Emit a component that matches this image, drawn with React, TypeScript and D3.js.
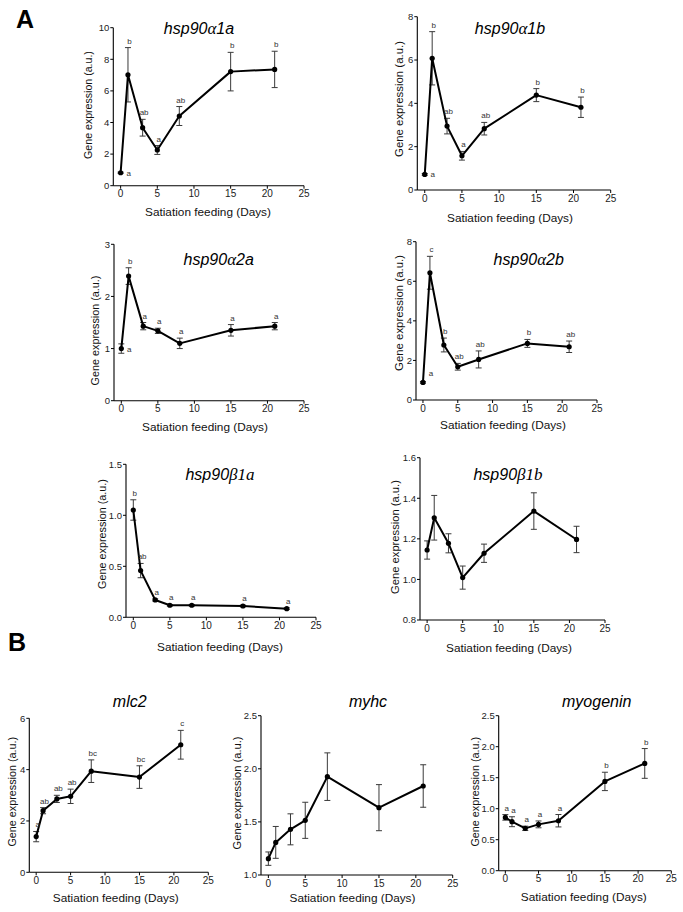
import React from "react";
import * as d3 from "d3";

// ---------- data ----------
const days = [0, 1, 3, 5, 8, 15, 21];
const xTicks = [0, 5, 10, 15, 20, 25];

const a1aMean = [0.82, 7.02, 3.67, 2.26, 4.41, 7.22, 7.36];
const a1aSem = [0.04, 1.72, 0.53, 0.28, 0.6, 1.22, 1.15];
const a1aLetters = ["a", "b", "ab", "a", "ab", "b", "b"];

const a1bMean = [0.72, 6.08, 2.95, 1.58, 2.83, 4.38, 3.82];
const a1bSem = [0.04, 1.23, 0.36, 0.2, 0.29, 0.3, 0.47];
const a1bLetters = ["a", "b", "ab", "a", "ab", "b", "b"];

const a2aMean = [1.0, 2.39, 1.43, 1.34, 1.1, 1.35, 1.43];
const a2aSem = [0.09, 0.16, 0.07, 0.05, 0.1, 0.11, 0.07];
const a2aLetters = ["a", "b", "a", "a", "a", "a", "a"];

const a2bMean = [0.89, 6.43, 2.78, 1.68, 2.05, 2.86, 2.69];
const a2bSem = [0.04, 0.83, 0.35, 0.17, 0.43, 0.2, 0.29];
const a2bLetters = ["a", "c", "b", "ab", "ab", "b", "ab"];

const b1aMean = [1.052, 0.458, 0.17, 0.118, 0.118, 0.111, 0.085];
const b1aSem = [0.1, 0.07, 0.01, 0.008, 0.008, 0.008, 0.008];
const b1aLetters = ["b", "ab", "a", "a", "a", "a", "a"];

const b1bMean = [1.145, 1.304, 1.178, 1.009, 1.129, 1.337, 1.197];
const b1bSem = [0.045, 0.11, 0.047, 0.057, 0.045, 0.09, 0.065];

const mlc2Mean = [1.39, 2.4, 2.86, 2.96, 3.94, 3.71, 4.97];
const mlc2Sem = [0.2, 0.12, 0.14, 0.28, 0.44, 0.44, 0.56];
const mlc2Letters = ["a", "ab", "ab", "ab", "bc", "bc", "c"];

const myhcMean = [1.154, 1.307, 1.43, 1.515, 1.926, 1.634, 1.838];
const myhcSem = [0.063, 0.15, 0.146, 0.17, 0.224, 0.217, 0.2];

const myogMean = [0.86, 0.79, 0.683, 0.747, 0.806, 1.44, 1.73];
const myogSem = [0.045, 0.08, 0.035, 0.055, 0.1, 0.148, 0.24];
const myogLetters = ["a", "a", "a", "a", "a", "b", "b"];

const ticksA1a = [0, 2, 4, 6, 8, 10];
const ticksA1b = [0, 2, 4, 6, 8];
const ticksA2a = [0, 1, 2, 3];
const ticksA2b = [0, 2, 4, 6, 8];
const ticksB1a = [0, 0.5, 1.0, 1.5];
const ticksB1b = [0.8, 1.0, 1.2, 1.4, 1.6];
const ticksMlc2 = [0, 2, 4, 6];
const ticksMyhc = [1.0, 1.5, 2.0, 2.5];
const ticksMyog = [0, 0.5, 1.0, 1.5, 2.0, 2.5];

// ---------- panel table ----------
type Part = { t: string; serif?: boolean };
const alphaTitle = (n: string): Part[] => [{ t: "hsp90" }, { t: "α", serif: true }, { t: n }];
const betaTitle = (n: string): Part[] => [{ t: "hsp90" }, { t: "β" + n, serif: true }];

const fmtInt = d3.format("d");
const fmt1 = d3.format(".1f");

const panels = [
  {
    title: alphaTitle("1a"), mean: a1aMean, sem: a1aSem, letters: a1aLetters,
    yDomain: [0, 10], yTicks: ticksA1a, fmt: fmtInt,
    ax: 113.3, x25: 304, top: 27.7, bottom: 185.7,
    titleX: 199, titleY: 33.5, ylabX: 88, ylabY: 105, ylabSize: 10.6, xlabX: 208, xlabY: 212,
    zero: { dx: 8, dy: 3 },
  },
  {
    title: alphaTitle("1b"), mean: a1bMean, sem: a1bSem, letters: a1bLetters,
    yDomain: [0, 8], yTicks: ticksA1b, fmt: fmtInt,
    ax: 417.3, x25: 610.7, top: 16.7, bottom: 190,
    titleX: 510, titleY: 33.5, ylabX: 399, ylabY: 99, ylabSize: 11.4, xlabX: 510, xlabY: 218,
    zero: { dx: 8, dy: 3 },
  },
  {
    title: alphaTitle("2a"), mean: a2aMean, sem: a2aSem, letters: a2aLetters,
    yDomain: [0, 3], yTicks: ticksA2a, fmt: fmtInt,
    ax: 114, x25: 304, top: 244.3, bottom: 400.7,
    titleX: 218.7, titleY: 264.5, ylabX: 95, ylabY: 330.5, ylabSize: 10.8, xlabX: 205, xlabY: 427,
    zero: { dx: 8, dy: 3 },
  },
  {
    title: alphaTitle("2b"), mean: a2bMean, sem: a2bSem, letters: a2bLetters,
    yDomain: [0, 8], yTicks: ticksA2b, fmt: fmtInt,
    ax: 416, x25: 597, top: 241.7, bottom: 400,
    titleX: 528.7, titleY: 264.5, ylabX: 399, ylabY: 313, ylabSize: 11.4, xlabX: 503, xlabY: 425,
    zero: { dx: 8, dy: -6 },
  },
  {
    title: betaTitle("1a"), mean: b1aMean, sem: b1aSem, letters: b1aLetters,
    yDomain: [0, 1.5], yTicks: ticksB1a, fmt: fmt1,
    ax: 126, x25: 316, top: 464.3, bottom: 617.3,
    titleX: 220, titleY: 480, ylabX: 101.7, ylabY: 534, ylabSize: 10.8, xlabX: 220, xlabY: 646.7,
    zero: null,
  },
  {
    title: betaTitle("1b"), mean: b1bMean, sem: b1bSem, letters: null,
    yDomain: [0.8, 1.6], yTicks: ticksB1b, fmt: fmt1,
    ax: 420, x25: 605, top: 457.7, bottom: 620,
    titleX: 508, titleY: 479.5, ylabX: 395, ylabY: 537, ylabSize: 11.2, xlabX: 509, xlabY: 648,
    zero: null,
  },
  {
    title: [{ t: "mlc2" }], mean: mlc2Mean, sem: mlc2Sem, letters: mlc2Letters,
    yDomain: [0, 6], yTicks: ticksMlc2, fmt: fmtInt,
    ax: 29.3, x25: 208.3, top: 718.3, bottom: 872.3,
    titleX: 129.7, titleY: 707.3, ylabX: 11.7, ylabY: 791.7, ylabSize: 10.8, xlabX: 115.8, xlabY: 898,
    zero: null,
  },
  {
    title: [{ t: "myhc" }], mean: myhcMean, sem: myhcSem, letters: null,
    yDomain: [1.0, 2.5], yTicks: ticksMyhc, fmt: fmt1,
    ax: 261, x25: 452.7, top: 715.7, bottom: 875,
    titleX: 368, titleY: 706.7, ylabX: 236.7, ylabY: 793, ylabSize: 11.1, xlabX: 352.5, xlabY: 898,
    zero: null,
  },
  {
    title: [{ t: "myogenin" }], mean: myogMean, sem: myogSem, letters: myogLetters,
    yDomain: [0, 2.5], yTicks: ticksMyog, fmt: fmt1,
    ax: 498.7, x25: 671.3, top: 715.7, bottom: 870.7,
    titleX: 596.7, titleY: 706.7, ylabX: 474.7, ylabY: 791.7, ylabSize: 10.8, xlabX: 583.8, xlabY: 897,
    zero: null,
  },
];

const SANS = "'Liberation Sans', Arial, Helvetica, sans-serif";
const SERIF = "'Liberation Serif', 'Times New Roman', serif";

function Panel({ p }: { p: (typeof panels)[number] }) {
  const x = d3.scaleLinear().domain([-1, 25]).range([p.ax, p.x25]);
  const y = d3.scaleLinear().domain(p.yDomain).range([p.bottom, p.top]);
  const pts = days.map((d, i) => ({ d, m: p.mean[i], s: p.sem[i] }));
  const line = d3
    .line<{ d: number; m: number }>()
    .x((q) => x(q.d))
    .y((q) => y(q.m));
  const y0 = y(p.yDomain[0]);
  return (
    <g>
      {/* axes */}
      <line x1={p.ax} x2={p.ax} y1={y0} y2={y(p.yDomain[1])} stroke="#000" strokeWidth={1.1} />
      <line x1={p.ax} x2={x(25)} y1={y0} y2={y0} stroke="#000" strokeWidth={1.1} />
      {p.yTicks.map((t) => (
        <g key={"y" + t}>
          <line x1={p.ax - 3} x2={p.ax} y1={y(t)} y2={y(t)} stroke="#000" strokeWidth={1} />
          <text x={p.ax - 4} y={y(t)} dy="0.35em" textAnchor="end" fontSize={9.5} fontFamily={SANS} fill="#222">
            {p.fmt(t)}
          </text>
        </g>
      ))}
      {xTicks.map((t) => (
        <g key={"x" + t}>
          <line x1={x(t)} x2={x(t)} y1={y0} y2={y0 + 3} stroke="#000" strokeWidth={1} />
          <text x={x(t)} y={y0 + 11.5} textAnchor="middle" fontSize={10} fontFamily={SANS} fill="#222">
            {t}
          </text>
        </g>
      ))}
      {/* axis labels */}
      <text
        transform={`translate(${p.ylabX},${p.ylabY}) rotate(-90)`}
        textAnchor="middle"
        dominantBaseline="central"
        fontSize={p.ylabSize}
        fontFamily={SANS}
        fill="#111"
      >
        Gene expression (a.u.)
      </text>
      <text x={p.xlabX} y={p.xlabY} textAnchor="middle" dominantBaseline="central" fontSize={11.8} fontFamily={SANS} fill="#111">
        Satiation feeding (Days)
      </text>
      {/* title */}
      <text x={p.titleX} y={p.titleY} textAnchor="middle" fontSize={16} fontStyle="italic" fontFamily={SANS} fill="#000">
        {p.title.map((part, i) => (
          <tspan key={i} fontFamily={part.serif ? SERIF : SANS} fontSize={part.serif ? 17 : 16}>
            {part.t}
          </tspan>
        ))}
      </text>
      {/* error bars */}
      {pts.map((q, i) => (
        <g key={"e" + i} stroke="#3a3a3a" strokeWidth={1}>
          <line x1={x(q.d)} x2={x(q.d)} y1={y(q.m - q.s)} y2={y(q.m + q.s)} />
          <line x1={x(q.d) - 3} x2={x(q.d) + 3} y1={y(q.m + q.s)} y2={y(q.m + q.s)} />
          <line x1={x(q.d) - 3} x2={x(q.d) + 3} y1={y(q.m - q.s)} y2={y(q.m - q.s)} />
        </g>
      ))}
      {/* line */}
      <path d={line(pts) || ""} fill="none" stroke="#000" strokeWidth={2} strokeLinejoin="round" />
      {pts.map((q, i) => (
        <circle key={"c" + i} cx={x(q.d)} cy={y(q.m)} r={2.6} fill="#000" />
      ))}
      {/* letters */}
      {p.letters &&
        p.letters.map((l, i) => {
          const q = pts[i];
          const special = i === 0 && p.zero;
          const lx = special ? x(q.d) + p.zero!.dx : x(q.d) + 1.5;
          const ly = special ? y(q.m) + p.zero!.dy : y(q.m + q.s) - 4;
          return (
            <text key={"l" + i} x={lx} y={ly} textAnchor="middle" fontSize={8} fontFamily={SANS} fill="#333">
              {l}
            </text>
          );
        })}
    </g>
  );
}

export default function App() {
  return (
    <svg
      width={683}
      height={912}
      viewBox="0 0 683 912"
      style={{ position: "absolute", left: 0, top: 0, background: "#fff" }}
    >
      <rect width={683} height={912} fill="#fff" />
      <text x={16} y={28} fontSize={25} fontWeight="bold" fontFamily={SANS} fill="#000">
        A
      </text>
      <text x={8} y={651} fontSize={25} fontWeight="bold" fontFamily={SANS} fill="#000">
        B
      </text>
      {panels.map((p, i) => (
        <Panel key={i} p={p} />
      ))}
    </svg>
  );
}
